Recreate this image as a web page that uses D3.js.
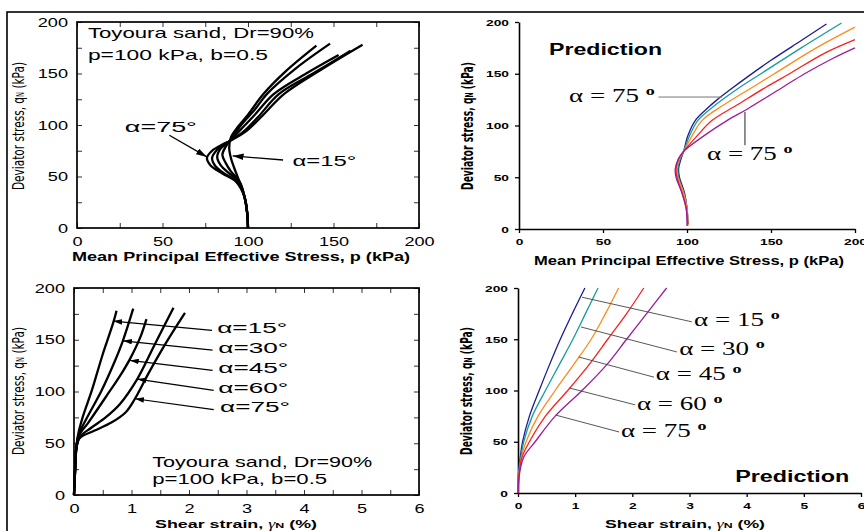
<!DOCTYPE html>
<html>
<head>
<meta charset="utf-8">
<script src="https://cdn.jsdelivr.net/npm/d3@7"></script>
<style>
body { margin: 0; background: #fff; }
svg { display: block; }
text { font-family: "Liberation Sans", Arial, sans-serif; fill: #000; }
</style>
</head>
<body>
<svg id="chart" width="864" height="531"></svg>
<script>
const alphas = [15, 30, 45, 60, 75];
const predColors = ["#1c1c90", "#179c9c", "#ff8a1c", "#ff1e1e", "#9c1c9c"];

const stressTicks = [0, 50, 100, 150, 200];
const stressMinor = [0, 25, 50, 75, 100, 125, 150, 175, 200];
const strainTicks = [0, 1, 2, 3, 4, 5, 6];
const strainMinor = [0, 0.5, 1, 1.5, 2, 2.5, 3, 3.5, 4, 4.5, 5, 5.5, 6];

// test results, stress path (p, q)
const testPath15 = [[100,0],[99.5,15],[98,30],[95,45],[92,58],[90,68],[89,78],[90,88],[94,98],[100,110],[109,130],[122,152],[140,177]];
const testPath30 = [[100,0],[99.5,15],[98,30],[95,45],[90,55],[87,63],[85,71],[87,79],[90,86],[96,100],[104,115],[111,130],[128,155],[148,179]];
const testPath45 = [[100,0],[99.5,15],[98,30],[95,45],[89,53],[84,61],[82,69],[84,77],[89,84],[96,96],[104,110],[115,130],[134,150],[153,168]];
const testPath60 = [[100,0],[99.5,15],[98,30],[94,45],[87,52],[81,60],[79,68],[82,76],[88,83],[97,93],[106,108],[118,130],[138,150],[160,172]];
const testPath75 = [[100,0],[99.5,15],[98,30],[93,45],[85,53],[78,61],[76,68],[79,75],[85,81],[90,85],[99,94],[109,110],[121,130],[142,153],[167,178]];

// predicted stress path (p, q)
const predPath15 = [[100.5,5],[100,20],[98.5,35],[95.5,50],[95,58],[96.5,68],[98,75],[100.5,90],[105,105],[111,115],[118,125],[126,135],[136,147],[150,163],[166,180],[183,198]];
const predPath30 = [[100.5,5],[100,20],[98,35],[95,50],[94.5,58],[96,68],[98,75],[101.5,90],[106.5,105],[117,120],[131.5,137],[144,150],[168,175],[192,199]];
const predPath45 = [[100.5,3],[100,20],[98,35],[94.5,50],[94,58],[95.5,68],[98,75],[103,90],[109,105],[122,120],[139,137],[152,150],[177,175],[200,195]];
const predPath60 = [[100.5,4],[99.5,20],[97,35],[94,50],[93.5,58],[95,68],[98,75],[106,90],[115,105],[130,120],[147,137],[161,150],[182,170],[200,183]];
const predPath75 = [[100,3],[99.5,20],[97,35],[93.5,50],[93,58],[95,68],[98,75],[110,90],[124,105],[136,116],[157,137],[170,150],[187,165],[200,175]];

// test results, shear strain (gamma %, q)
const testStrain15 = [[0,0],[0.02,25],[0.04,45],[0.07,58],[0.15,75],[0.31,101],[0.5,136],[0.68,166],[0.74,178]];
const testStrain30 = [[0,0],[0.02,25],[0.04,45],[0.08,58],[0.2,72],[0.48,101],[0.7,128],[0.85,149],[1.03,180]];
const testStrain45 = [[0,0],[0.02,25],[0.04,45],[0.08,57],[0.25,70],[0.63,101],[0.8,115],[0.97,131],[1.15,152],[1.26,170]];
const testStrain60 = [[0,0],[0.02,25],[0.04,45],[0.1,56],[0.3,65],[0.55,75],[0.8,88],[1.1,112],[1.4,145],[1.73,181]];
const testStrain75 = [[0,0],[0.02,25],[0.04,45],[0.1,55],[0.35,62],[0.65,70],[0.9,80],[1.06,93],[1.3,118],[1.6,147],[1.93,176]];

// predicted shear strain (gamma %, q)
const predStrain15 = [[0,0],[0.01,20],[0.04,35],[0.08,50],[0.2,75],[0.37,100],[0.55,125],[0.74,150],[0.95,175],[1.17,200]];
const predStrain30 = [[0,0],[0.01,20],[0.05,35],[0.1,50],[0.25,75],[0.48,100],[0.72,125],[0.96,150],[1.18,175],[1.4,200]];
const predStrain45 = [[0,0],[0.02,20],[0.06,35],[0.14,50],[0.35,75],[0.65,100],[0.97,125],[1.28,150],[1.53,175],[1.76,200]];
const predStrain60 = [[0,0],[0.02,20],[0.07,35],[0.2,50],[0.48,75],[0.87,100],[1.24,125],[1.57,150],[1.9,175],[2.2,200]];
const predStrain75 = [[0,0],[0.03,20],[0.1,35],[0.3,50],[0.65,75],[1.12,100],[1.55,125],[1.9,150],[2.25,175],[2.6,200]];

const testPaths = [testPath15, testPath30, testPath45, testPath60, testPath75];
const predPaths = [predPath15, predPath30, predPath45, predPath60, predPath75];
const testStrains = [testStrain15, testStrain30, testStrain45, testStrain60, testStrain75];
const predStrains = [predStrain15, predStrain30, predStrain45, predStrain60, predStrain75];

// annotation anchors, in data units: [label x, label y, arrow from x, from y, arrow to x, to y]
const testPathNotes = [[28, 93, 54, 90, 76, 69, "α=75°"], [126, 60, 120.5, 66, 91, 70, "α=15°"]];
const testStrainNotes = [[2.49, 156.5, 2.4, 159, 0.68, 168], [2.51, 137, 2.41, 140, 0.85, 149], [2.51, 118, 2.41, 120.5, 0.97, 130], [2.51, 99, 2.43, 101, 1.1, 112], [2.54, 80.5, 2.43, 82.5, 1.06, 93]];
const predStrainNotes = [[3.08, 163, 3.04, 167, 1.12, 191], [2.82, 134.5, 2.78, 137.6, 1.1, 162], [2.41, 110, 2.38, 113, 1.06, 132.7], [2.08, 81, 2.05, 86, 0.9, 102.4], [1.8, 54.6, 1.77, 59.5, 0.66, 76]];

const SX = 1.45; // the figure is stretched sideways

const svg = d3.select("#chart");

function stretch(sel, sx) {
    sel.each(function () {
        const w = this.getComputedTextLength();
        d3.select(this).attr("textLength", w * sx).attr("lengthAdjust", "spacingAndGlyphs");
    });
}

function yTitle(g, cx, cy, bold) {
    const t = g.append("text")
        .attr("transform", "translate(" + cx + "," + cy + ") scale(" + SX + ",1) rotate(-90)")
        .attr("text-anchor", "middle")
        .attr("dy", "0.35em")
        .style("font-family", "'Liberation Sans Narrow', 'DejaVu Sans Condensed', sans-serif")
        .style("font-size", bold ? "10.5px" : "11px")
        .style("font-weight", bold ? "bold" : "normal")
        .attr("textLength", 128).attr("lengthAdjust", "spacingAndGlyphs");
    t.append("tspan").text("Deviator stress, q");
    t.append("tspan").style("font-size", "7px").text("N");
    t.append("tspan").text(" (kPa)");
}

function xTitle(g, cx, by, width, strain) {
    const t = g.append("text")
        .attr("x", cx).attr("y", by)
        .attr("text-anchor", "middle")
        .style("font-size", strain ? "11.5px" : "12px").style("font-weight", "bold")
        .attr("textLength", width).attr("lengthAdjust", "spacingAndGlyphs");
    if (strain) {
        t.append("tspan").text("Shear strain, ");
        t.append("tspan").style("font-family", "'Liberation Serif', serif").style("font-weight", "normal").style("font-style", "italic").text("γ");
        t.append("tspan").style("font-size", "8px").text("N");
        t.append("tspan").text(" (%)");
    } else {
        t.text("Mean Principal Effective Stress, p (kPa)");
    }
}

// boxed panel of the test figure
function boxPanel(x, y, xMinor, xMajor, yMinor, yMajor) {
    const g = svg.append("g");
    const [x0, x1] = x.range(), [y0, y1] = y.range();
    const fmtX = d => xMajor.includes(d) ? d : "";
    const fmtY = d => yMajor.includes(d) ? d : "";
    g.append("g").attr("transform", "translate(0," + y0 + ")")
        .call(d3.axisBottom(x).tickValues(xMinor).tickSize(-5).tickPadding(9).tickFormat(fmtX));
    g.append("g").attr("transform", "translate(" + x0 + ",0)")
        .call(d3.axisLeft(y).tickValues(yMinor).tickSize(-5).tickPadding(9).tickFormat(fmtY));
    g.append("g").attr("transform", "translate(0," + y1 + ")")
        .call(d3.axisTop(x).tickValues(xMinor).tickSize(-5).tickFormat(""));
    g.append("g").attr("transform", "translate(" + x1 + ",0)")
        .call(d3.axisRight(y).tickValues(yMinor).tickSize(-5).tickFormat(""));
    g.selectAll(".domain").remove();
    g.selectAll(".tick line").attr("stroke", "#333").attr("stroke-width", 1);
    g.selectAll(".tick text").style("font-size", "12.5px").style("font-family", "'Liberation Sans', Arial, sans-serif");
    stretch(g.selectAll(".tick text"), SX);
    g.append("rect")
        .attr("x", x0).attr("y", y1).attr("width", x1 - x0).attr("height", y0 - y1)
        .attr("fill", "none").attr("stroke", "#000").attr("stroke-width", 1.7);
    return g;
}

// open axes panel of the prediction figure
function openPanel(x, y, xTicks, yTicks) {
    const g = svg.append("g");
    const [x0] = x.range(), [y0] = y.range();
    g.append("g").attr("transform", "translate(0," + y0 + ")")
        .call(d3.axisBottom(x).tickValues(xTicks).tickSize(4).tickSizeOuter(0).tickPadding(5).tickFormat(d3.format("d")));
    g.append("g").attr("transform", "translate(" + x0 + ",0)")
        .call(d3.axisLeft(y).tickValues(yTicks).tickSize(4).tickSizeOuter(0).tickPadding(6).tickFormat(d3.format("d")));
    g.selectAll(".domain").attr("stroke", "#000").attr("stroke-width", 1.6);
    g.selectAll(".tick line").attr("stroke", "#000").attr("stroke-width", 1.3);
    g.selectAll(".tick text").style("font-size", "9.5px").style("font-weight", "bold")
        .style("font-family", "'Liberation Sans', Arial, sans-serif");
    stretch(g.selectAll(".tick text"), SX);
    return g;
}

function serifLabel(g, x, y, num) {
    const t = g.append("text").attr("x", x).attr("y", y)
        .style("font-family", "'Liberation Serif', 'Times New Roman', serif")
        .style("font-size", "18px");
    t.append("tspan").text("α = " + num + " ");
    t.append("tspan").attr("dy", -7).style("font-size", "12px").style("font-weight", "bold").text("o");
    stretch(t, 1.5);
}

const defs = svg.append("defs");
defs.append("marker").attr("id", "headBig")
    .attr("viewBox", "0 0 10 6").attr("refX", 10).attr("refY", 3)
    .attr("markerWidth", 11).attr("markerHeight", 6.6).attr("markerUnits", "userSpaceOnUse")
    .attr("orient", "auto")
    .append("path").attr("d", "M0,0L10,3L0,6Z").attr("fill", "#000");
defs.append("marker").attr("id", "headSmall")
    .attr("viewBox", "0 0 10 6").attr("refX", 10).attr("refY", 3)
    .attr("markerWidth", 9).attr("markerHeight", 5.4).attr("markerUnits", "userSpaceOnUse")
    .attr("orient", "auto")
    .append("path").attr("d", "M0,0L10,3L0,6Z").attr("fill", "#000");

// outer border of the page image
svg.append("rect").attr("x", 7).attr("y", 12).attr("width", 1000).attr("height", 700)
    .attr("fill", "none").attr("stroke", "#000").attr("stroke-width", 1.6);

// ---- top left: test stress paths ----
{
    const x = d3.scaleLinear([0, 200], [77, 419]);
    const y = d3.scaleLinear([0, 200], [228, 22]);
    const g = boxPanel(x, y, stressMinor, stressTicks, stressMinor, stressTicks);
    const line = d3.line().x(d => x(d[0])).y(d => y(d[1])).curve(d3.curveCatmullRom);
    g.selectAll(".curve").data(testPaths).join("path").attr("class", "curve")
        .attr("d", line).attr("fill", "none").attr("stroke", "#000").attr("stroke-width", 2.3);

    const info = g.append("g").style("font-size", "15px");
    info.append("text").attr("x", x(6.4)).attr("y", y(184.5)).text("Toyoura sand, Dr=90%")
        .attr("textLength", 226).attr("lengthAdjust", "spacingAndGlyphs");
    info.append("text").attr("x", x(6.4)).attr("y", y(163)).text("p=100 kPa, b=0.5")
        .attr("textLength", 180).attr("lengthAdjust", "spacingAndGlyphs");

    testPathNotes.forEach((n, i) => {
        g.append("text").attr("x", x(n[0])).attr("y", y(n[1])).style("font-size", "14.5px")
            .text(n[6]).attr("textLength", i === 0 ? 72 : 64).attr("lengthAdjust", "spacingAndGlyphs");
        g.append("line").attr("x1", x(n[2])).attr("y1", y(n[3])).attr("x2", x(n[4])).attr("y2", y(n[5]))
            .attr("stroke", "#000").attr("stroke-width", 1.3).attr("marker-end", "url(#headBig)");
    });
    yTitle(svg, 18, 126, false);
    xTitle(svg, 241, 261, 338, false);
}

// ---- top right: predicted stress paths ----
{
    const x = d3.scaleLinear([0, 200], [519, 855]);
    const y = d3.scaleLinear([0, 200], [229, 22]);
    const g = openPanel(x, y, stressTicks, stressTicks);
    const line = d3.line().x(d => x(d[0])).y(d => y(d[1])).curve(d3.curveCatmullRom);
    g.selectAll(".curve").data(predPaths).join("path").attr("class", "curve")
        .attr("d", line).attr("fill", "none").attr("stroke", (d, i) => predColors[i]).attr("stroke-width", 1.3);

    g.append("text").attr("x", x(17.9)).attr("y", y(168)).style("font-size", "16px").style("font-weight", "bold")
        .text("Prediction").attr("textLength", 113).attr("lengthAdjust", "spacingAndGlyphs");

    g.append("line").attr("x1", x(83)).attr("y1", y(127.5)).attr("x2", x(121)).attr("y2", y(127.5))
        .attr("stroke", "#777").attr("stroke-width", 1);
    serifLabel(g, x(29.8), y(122.7), 75);
    g.append("line").attr("x1", x(134.5)).attr("y1", y(113)).attr("x2", x(134.5)).attr("y2", y(81))
        .attr("stroke", "#222").attr("stroke-width", 1);
    serifLabel(g, x(111.9), y(66.7), 75);

    yTitle(svg, 468, 126, true);
    xTitle(svg, 689, 265, 310, false);
}

// ---- bottom left: test shear strain ----
{
    const x = d3.scaleLinear([0, 6], [74, 419]);
    const y = d3.scaleLinear([0, 200], [495, 288]);
    const g = boxPanel(x, y, strainMinor, strainTicks, stressMinor, stressTicks);
    const line = d3.line().x(d => x(d[0])).y(d => y(d[1])).curve(d3.curveCatmullRom);
    g.selectAll(".curve").data(testStrains).join("path").attr("class", "curve")
        .attr("d", line).attr("fill", "none").attr("stroke", "#000").attr("stroke-width", 2.3);

    testStrainNotes.forEach((n, i) => {
        g.append("text").attr("x", x(n[0])).attr("y", y(n[1])).style("font-size", "14.5px")
            .text("α=" + alphas[i] + "°").attr("textLength", 70).attr("lengthAdjust", "spacingAndGlyphs");
        g.append("line").attr("x1", x(n[2])).attr("y1", y(n[3])).attr("x2", x(n[4])).attr("y2", y(n[5]))
            .attr("stroke", "#000").attr("stroke-width", 1.2).attr("marker-end", "url(#headSmall)");
    });

    const info = g.append("g").style("font-size", "15px");
    info.append("text").attr("x", x(1.36)).attr("y", y(27)).text("Toyoura sand, Dr=90%")
        .attr("textLength", 220).attr("lengthAdjust", "spacingAndGlyphs");
    info.append("text").attr("x", x(1.36)).attr("y", y(10.6)).text("p=100 kPa, b=0.5")
        .attr("textLength", 175).attr("lengthAdjust", "spacingAndGlyphs");

    yTitle(svg, 18, 391, false);
    xTitle(svg, 236, 528, 162, true);
}

// ---- bottom right: predicted shear strain ----
{
    const x = d3.scaleLinear([0, 6], [518, 861]);
    const y = d3.scaleLinear([0, 200], [493, 288]);
    const g = openPanel(x, y, strainTicks, stressTicks);
    const line = d3.line().x(d => x(d[0])).y(d => y(d[1])).curve(d3.curveCatmullRom);
    g.selectAll(".curve").data(predStrains).join("path").attr("class", "curve")
        .attr("d", line).attr("fill", "none").attr("stroke", (d, i) => predColors[i]).attr("stroke-width", 1.3);

    predStrainNotes.forEach((n, i) => {
        g.append("line").attr("x1", x(n[2])).attr("y1", y(n[3])).attr("x2", x(n[4])).attr("y2", y(n[5]))
            .attr("stroke", "#444").attr("stroke-width", 0.9);
        serifLabel(g, x(n[0]), y(n[1]), alphas[i]);
    });

    g.append("text").attr("x", x(3.8)).attr("y", y(10.7)).style("font-size", "16px").style("font-weight", "bold")
        .text("Prediction").attr("textLength", 114).attr("lengthAdjust", "spacingAndGlyphs");

    yTitle(svg, 467, 391, true);
    xTitle(svg, 685, 528, 160, true);
}
</script>
</body>
</html>
